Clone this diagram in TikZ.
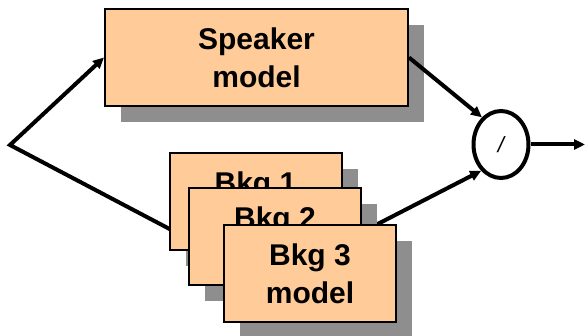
\documentclass[tikz,border=0pt]{standalone}
\usepackage{fontspec}
\setmainfont{Liberation Sans}
\usetikzlibrary{arrows.meta,shapes.geometric,shadows,backgrounds}
\definecolor{peach}{HTML}{FFCC99}
\definecolor{shadowgray}{HTML}{8E8E8E}
\begin{document}
\begin{tikzpicture}[x=1pt,y=-1pt,
  modelbox/.style={draw=black,line width=2pt,fill=peach,
    minimum width=172pt,minimum height=97pt,inner sep=0pt,
    align=center,font=\bfseries\fontsize{30}{38}\selectfont,
    drop shadow={shadow xshift=16pt,shadow yshift=-16pt,fill=shadowgray,opacity=1}},
  wire/.style={line width=4pt,line join=miter},
  arrowwire/.style={wire,-{Triangle[length=11pt,width=10pt]}},
  divider/.style={ellipse,draw=black,line width=4pt,fill=white,
    minimum width=55pt,minimum height=67pt,inner sep=0pt,
    font=\fontsize{22}{22}\selectfont}]
  \useasboundingbox (0,0) rectangle (586,336);

  % model boxes
  \node[modelbox,minimum width=303pt] (spk) at (256.5,57.5) {Speaker\\model};
  \node[modelbox] (b1) at (255.5,201.5) {Bkg 1\\model};
  \node[modelbox] (b2) at (275,236.5) {Bkg 2\\model};
  \node[modelbox] (b3) at (310,273.5) {Bkg 3\\model};

  % ratio node
  \node[divider] (div) at (501,144.5) {\itshape /};

  % end points of the wires
  \coordinate (in) at (10,145);
  \coordinate (bkgL) at (200,245);
  \coordinate (bkgR) at (340,243.4);
  \coordinate (out) at (585,144.5);

  \begin{scope}[on background layer]
    \draw[arrowwire] (bkgL) -- (in) -- (spk.west);
    \draw[arrowwire] (bkgR) -- (div.-127.4);
  \end{scope}
  \draw[arrowwire] (spk.east) -- (div.125.4);
  \draw[arrowwire] (div.east) -- (out);
\end{tikzpicture}
\end{document}
